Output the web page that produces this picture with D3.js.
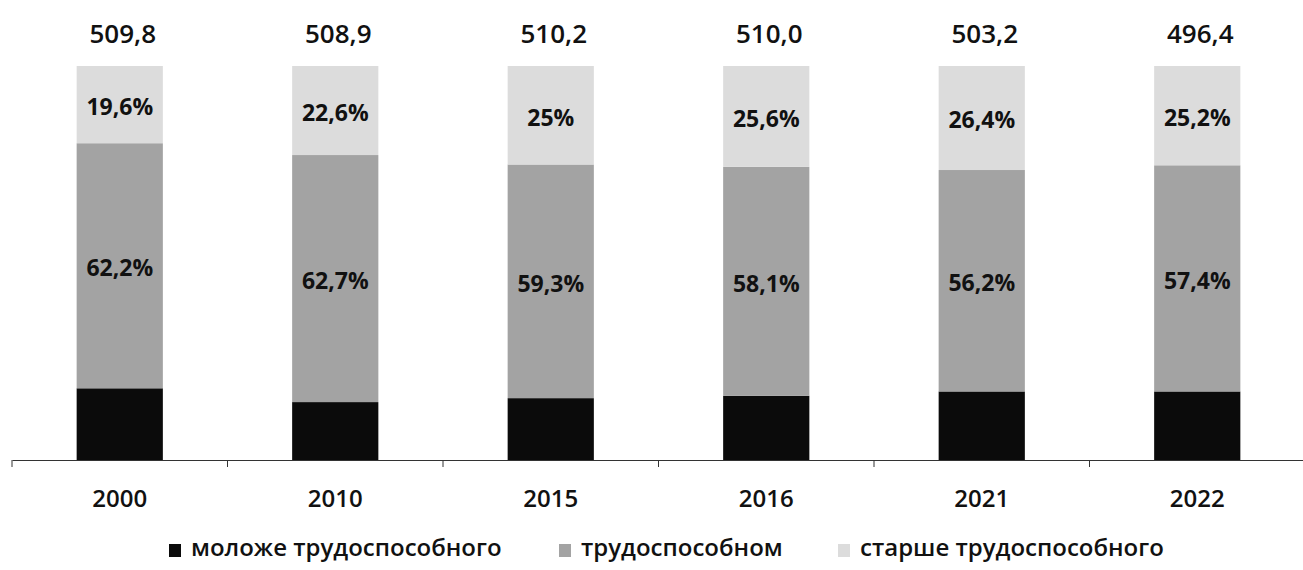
<!DOCTYPE html>
<html>
<head>
<meta charset="utf-8">
<script src="https://cdn.jsdelivr.net/npm/d3@7"></script>
<style>
  body { margin: 0; background: #fff; }
  svg { font-family: "Open Sans", "Noto Sans", sans-serif; }
</style>
</head>
<body>
<div id="chart"></div>
<script>
const FRAME_WIDTH = 1303;
const FRAME_HEIGHT = 570;
const AXIS_Y = 460;
const TOP_Y = 66;

// data
const YEARS = ["2000", "2010", "2015", "2016", "2021", "2022"];
const TOTALS = ["509,8", "508,9", "510,2", "510,0", "503,2", "496,4"];
const WORKING = [62.2, 62.7, 59.3, 58.1, 56.2, 57.4];
const OLDER = [19.6, 22.6, 25, 25.6, 26.4, 25.2];
const YOUNGER = WORKING.map((w, i) => +(100 - w - OLDER[i]).toFixed(1));
const SERIES = ["моложе трудоспособного", "трудоспособном", "старше трудоспособного"];
const KEYS = ["younger", "working", "older"];

const COLOR = d3.scaleOrdinal()
        .domain(KEYS)
        .range(["#0b0b0b", "#a3a3a3", "#dcdcdc"]);

const data = YEARS.map((y, i) => ({
    year: y, total: TOTALS[i],
    younger: YOUNGER[i], working: WORKING[i], older: OLDER[i]
}));

const FRAME = d3.select("#chart")
                .append("svg")
                    .attr("width", FRAME_WIDTH)
                    .attr("height", FRAME_HEIGHT);

const X_SCALE = d3.scaleBand()
                .domain(YEARS)
                .range([12, 1305])
                .padding(0);

const Y_SCALE = d3.scaleLinear()
                .domain([0, 100])
                .range([AXIS_Y, TOP_Y]);

const BAR_W = X_SCALE.bandwidth() * 0.4;
const center = (d) => X_SCALE(d) + X_SCALE.bandwidth() / 2;

const stacked = d3.stack().keys(KEYS)(data);

// bars
FRAME.selectAll(".layer")
    .data(stacked)
    .enter()
    .append("g")
        .attr("fill", (s) => COLOR(s.key))
    .selectAll("rect")
    .data((s) => s)
    .enter()
    .append("rect")
        .attr("x", (d) => center(d.data.year) - BAR_W / 2)
        .attr("y", (d) => Y_SCALE(d[1]))
        .attr("width", BAR_W)
        .attr("height", (d) => Y_SCALE(d[0]) - Y_SCALE(d[1]));

// percent labels in the upper two segments
stacked.filter((s) => s.key !== "younger").forEach((s) => {
    FRAME.selectAll(".lbl-" + s.key)
        .data(s)
        .enter()
        .append("text")
            .attr("x", (d) => center(d.data.year))
            .attr("y", (d) => (Y_SCALE(d[0]) + Y_SCALE(d[1])) / 2 + 2)
            .attr("dy", "0.36em")
            .attr("text-anchor", "middle")
            .attr("font-size", "23px")
            .attr("font-weight", "bold")
            .attr("fill", "#111")
            .text((d) => String(d.data[s.key]).replace(".", ",") + "%");
});

// totals above bars
FRAME.selectAll(".total")
    .data(data)
    .enter()
    .append("text")
        .attr("x", (d) => center(d.year) + 3)
        .attr("y", 43)
        .attr("text-anchor", "middle")
        .attr("font-size", "26px")
        .attr("font-weight", "600")
        .attr("fill", "#111")
        .text((d) => d.total);

// x axis with ticks at the category boundaries
const xAxis = FRAME.append("g")
        .attr("transform", "translate(0," + AXIS_Y + ")")
        .call(d3.axisBottom(X_SCALE).tickSize(0).tickPadding(30));
xAxis.select(".domain").attr("stroke", "#333");
xAxis.selectAll("text")
        .attr("font-size", "24px")
        .attr("font-weight", "600")
        .attr("fill", "#111")
        .attr("font-family", "'Open Sans', sans-serif");

xAxis.selectAll(".bound")
    .data(YEARS)
    .enter()
    .append("line")
        .attr("x1", (d) => X_SCALE(d))
        .attr("x2", (d) => X_SCALE(d))
        .attr("y1", 0)
        .attr("y2", 7)
        .attr("stroke", "#333");

// legend
const LEGEND_X = [169, 559, 838];
const legend = FRAME.selectAll(".legend")
    .data(KEYS)
    .enter()
    .append("g")
        .attr("transform", (d, i) => "translate(" + LEGEND_X[i] + ",549)");
legend.append("rect")
        .attr("x", 0).attr("y", -5)
        .attr("width", 12).attr("height", 13)
        .attr("fill", (d) => COLOR(d));
legend.append("text")
        .attr("x", 22)
        .attr("dy", "0.3em")
        .attr("font-size", "24px")
        .attr("font-weight", "600")
        .attr("fill", "#111")
        .text((d, i) => SERIES[i]);
</script>
</body>
</html>
